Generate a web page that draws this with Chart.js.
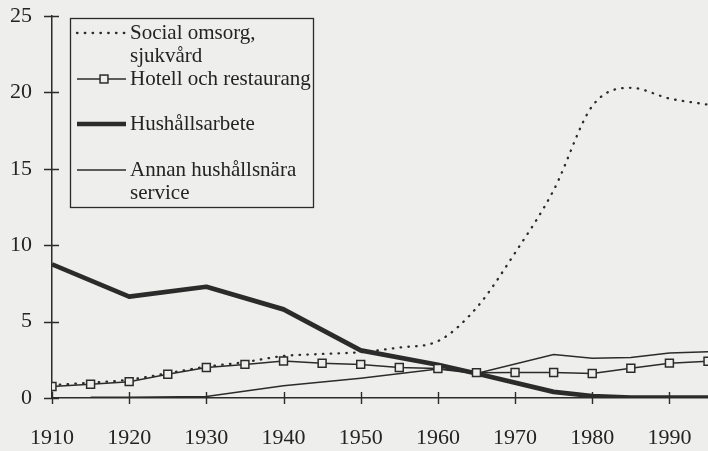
<!DOCTYPE html>
<html>
<head>
<meta charset="utf-8">
<script src="https://cdn.jsdelivr.net/npm/chart.js@4/dist/chart.umd.min.js"></script>
<style>
  html, body { margin: 0; padding: 0; background: #eeefec; font-family: 'Liberation Serif', serif; }
  #wrap { width: 708px; height: 451px; }
  .probe { position: absolute; left: -9999px; font-family: 'Liberation Serif'; }
</style>
</head>
<body>
<span class="probe">Probe 1910</span>
<div id="wrap"><canvas id="c" width="708" height="451"></canvas></div>
<script>
// ---- data ----
const YEARS = [1910,1915,1920,1925,1930,1935,1940,1945,1950,1955,1960,1965,1970,1975,1980,1985,1990,1995];
const SOCIAL = [0.85,1.0,1.2,1.62,2.05,2.35,2.75,2.88,3.0,3.3,3.72,5.9,9.5,13.6,19.1,20.3,19.6,19.2];
const HOTELL = [0.75,0.9,1.07,1.55,2.0,2.2,2.42,2.27,2.2,2.0,1.93,1.66,1.67,1.67,1.6,1.95,2.28,2.4];
const HUSHALL = [8.75,null,6.63,null,7.28,null,5.8,null,3.12,null,2.18,1.6,null,0.4,0.13,0.03,0.03,0.03];
const ANNAN = [null,0.05,0.05,null,0.1,null,0.8,null,1.3,null,1.9,1.6,null,2.85,2.6,2.65,2.95,3.03];
const LABELS = [["Social omsorg,","sjukvård"],["Hotell och restaurang"],["Hushållsarbete"],["Annan hushållsnära","service"]];
const XTICKS = [1910,1920,1930,1940,1950,1960,1970,1980,1990];
const YTICKS = [0,5,10,15,20,25];

const INK = '#2b2b2b';
const BG = '#eeefec';
const FONT = "'Liberation Serif', serif";

const pts = vals => YEARS.map((x, i) => ({ x: x, y: vals[i] }));

const tickMarks = {
  id: 'tickMarks',
  afterDraw(chart) {
    const ctx = chart.ctx, xs = chart.scales.x, ys = chart.scales.y;
    ctx.save();
    ctx.strokeStyle = INK;
    ctx.lineWidth = 1.4;
    ctx.beginPath();
    xs.ticks.forEach(t => {
      const px = Math.round(xs.getPixelForValue(t.value)) + 0.5;
      ctx.moveTo(px, ys.bottom - 6);
      ctx.lineTo(px, ys.bottom + 6);
    });
    ys.ticks.forEach(t => {
      const py = Math.round(ys.getPixelForValue(t.value)) + 0.5;
      ctx.moveTo(xs.left - 8, py);
      ctx.lineTo(xs.left + 7, py);
    });
    ctx.stroke();
    ctx.restore();
  }
};

const boxLegend = {
  id: 'boxLegend',
  afterDraw(chart) {
    const ctx = chart.ctx;
    const box = { x: 70.5, y: 18.5, w: 243, h: 189 };
    const rows = [33, 79, 124, 170];
    const lineStep = 23;
    ctx.save();
    ctx.fillStyle = BG;
    ctx.fillRect(box.x, box.y, box.w, box.h);
    ctx.strokeStyle = INK;
    ctx.lineWidth = 1.3;
    ctx.strokeRect(box.x, box.y, box.w, box.h);
    chart.data.datasets.forEach((ds, i) => {
      const y = rows[i];
      ctx.save();
      ctx.strokeStyle = ds.borderColor;
      ctx.lineWidth = ds.borderWidth;
      ctx.lineCap = ds.borderCapStyle || 'butt';
      ctx.setLineDash(ds.borderDash || []);
      ctx.beginPath();
      ctx.moveTo(77, y);
      ctx.lineTo(126, y);
      ctx.stroke();
      ctx.setLineDash([]);
      if (ds.pointRadius > 0) {
        const s = ds.pointRadius * Math.SQRT1_2;
        ctx.fillStyle = ds.pointBackgroundColor;
        ctx.lineWidth = ds.pointBorderWidth;
        ctx.strokeStyle = ds.pointBorderColor;
        ctx.fillRect(104 - s, y - s, 2 * s, 2 * s);
        ctx.strokeRect(104 - s, y - s, 2 * s, 2 * s);
      }
      ctx.restore();
      ctx.fillStyle = '#232323';
      ctx.font = '21px ' + FONT;
      ctx.textBaseline = 'middle';
      ctx.textAlign = 'left';
      ds.label.forEach((line, k) => ctx.fillText(line, 130, y + k * lineStep));
    });
    ctx.restore();
  }
};

function draw() {
  new Chart(document.getElementById('c'), {
    type: 'line',
    data: {
      datasets: [
        { label: LABELS[0], data: pts(SOCIAL), borderColor: INK, borderWidth: 2.3, borderDash: [0.5, 7.3], borderCapStyle: 'round',
          pointRadius: 0, cubicInterpolationMode: 'monotone', spanGaps: true, order: 2 },
        { label: LABELS[1], data: pts(HOTELL), borderColor: INK, borderWidth: 1.5, pointStyle: 'rect', pointRadius: 5.6,
          pointBackgroundColor: BG, pointBorderColor: INK, pointBorderWidth: 1.5, tension: 0, spanGaps: true, order: 0 },
        { label: LABELS[2], data: pts(HUSHALL), borderColor: INK, borderWidth: 4.7, borderJoinStyle: 'round',
          pointRadius: 0, tension: 0, spanGaps: true, order: 1 },
        { label: LABELS[3], data: pts(ANNAN), borderColor: INK, borderWidth: 1.5, pointRadius: 0, tension: 0, spanGaps: true, order: 3 }
      ]
    },
    options: {
      responsive: false,
      devicePixelRatio: 1,
      animation: false,
      layout: { autoPadding: false, padding: { top: 16, right: 0, bottom: 0, left: 0 } },
      plugins: { legend: { display: false }, tooltip: { enabled: false } },
      scales: {
        x: {
          type: 'linear', min: 1910, max: 1995,
          afterBuildTicks: s => { s.ticks = XTICKS.map(v => ({ value: v })); },
          afterFit: s => { s.height = 53; s.paddingRight = 0; s.paddingLeft = 0; },
          grid: { display: false },
          border: { display: true, color: INK, width: 1.5 },
          ticks: { color: '#232323', font: { family: FONT, size: 22 }, padding: 19, maxRotation: 0, autoSkip: false,
                   callback: v => String(v) }
        },
        y: {
          min: 0, max: 25,
          afterBuildTicks: s => { s.ticks = YTICKS.map(v => ({ value: v })); },
          afterFit: s => { s.width = 52; s.paddingTop = 0; s.paddingBottom = 0; },
          grid: { display: false },
          border: { display: true, color: INK, width: 1.5 },
          ticks: { color: '#232323', font: { family: FONT, size: 22 }, padding: 12, callback: v => String(v) }
        }
      }
    },
    plugins: [tickMarks, boxLegend]
  });
}

const fontReady = (document.fonts && document.fonts.load)
  ? Promise.all([document.fonts.load("22px 'Liberation Serif'"), document.fonts.load("21px 'Liberation Serif'")]).catch(() => null)
  : Promise.resolve();
fontReady.then(draw, draw);
</script>
</body>
</html>
